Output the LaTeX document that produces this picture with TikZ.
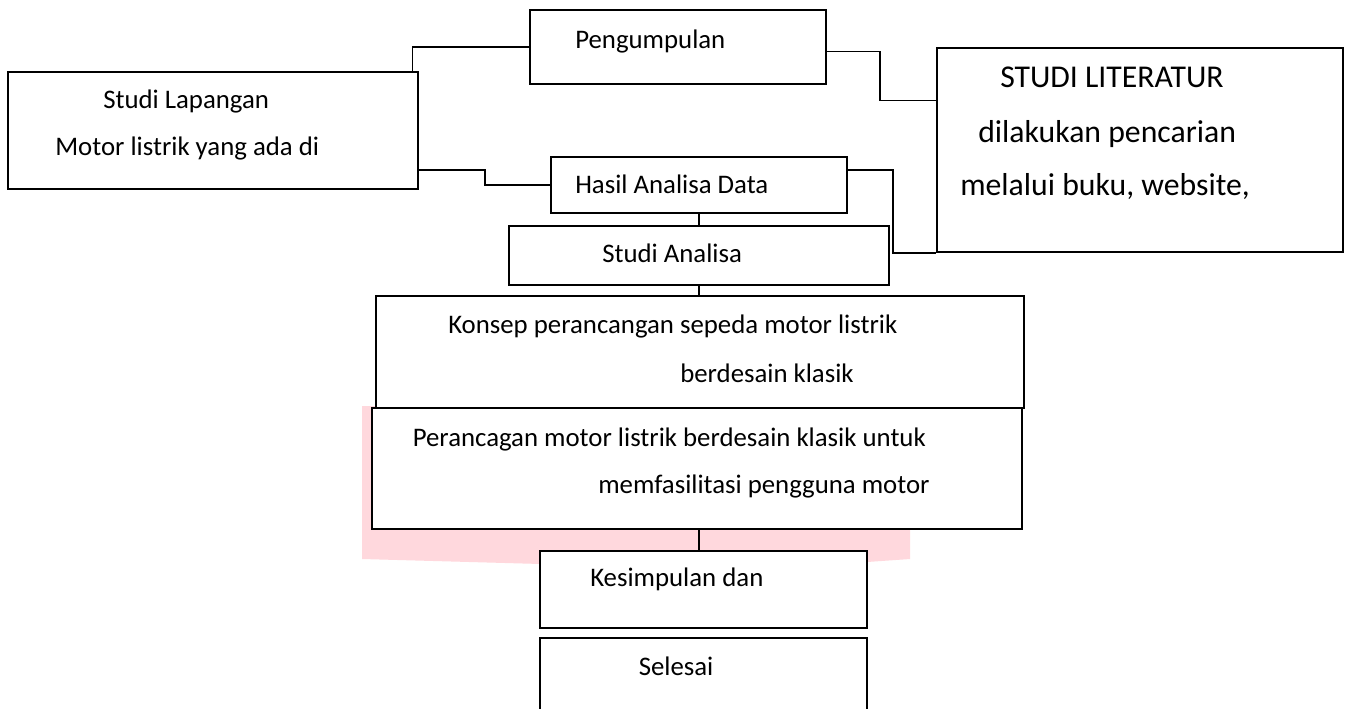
\documentclass[tikz,border=0pt]{standalone}
\usepackage{fontspec}
\setmainfont{Carlito}
\usetikzlibrary{fit,calc}
\definecolor{pinkbg}{RGB}{255,216,221}
\tikzset{
  box/.style={draw=black, line width=1.5pt, fill=white, inner sep=0pt, rectangle},
  conn/.style={draw=black, line width=0.8pt},
  txt/.style={inner sep=0pt, anchor=base west, font=\fontsize{20.1}{24}\selectfont},
  bigtxt/.style={inner sep=0pt, anchor=base west, font=\fontsize{23.8}{28}\selectfont},
}
\begin{document}
\begin{tikzpicture}[x=0.75pt, y=-0.75pt]
\useasboundingbox (0,0) rectangle (1349,708);
\clip (0,0) rectangle (1349,708);
\fill[white] (0,0) rectangle (1349,708);
% pink background shape
\fill[pinkbg] (362,406) -- (910,406) -- (910,559) -- (867,562) -- (700,566) -- (541,564) -- (362,559) -- cycle;
% boxes
\node[box, fit={(8,72) (418,189)}] (lap) {};
\node[box, fit={(530,10) (826,84)}] (peng) {};
\node[box, fit={(937,48) (1343,252)}] (lit) {};
\node[box, fit={(551,157) (847,213)}] (hasil) {};
\node[box, fit={(509,226) (889,285)}] (analisa) {};
\node[box, fit={(376,296) (1024,408)}] (konsep) {};
\node[box, fit={(372,408) (1022,529)}] (peranc) {};
\node[box, fit={(540,551) (867,628)}] (kes) {};
\node[box, fit={(540,638) (867,730)}] (sel) {};
% connectors
\coordinate (j1) at (412.5,47);
\draw[conn] (peng.west) -| (j1 |- lap.north);
\coordinate (j2a) at (826,51.7);
\coordinate (j2b) at (880,51.7);
\coordinate (j2c) at (880,100.7);
\coordinate (j2d) at (937,100.7);
\draw[conn] (j2a) -- (j2b) -- (j2c) -- (j2d);
\coordinate (j3a) at (418,170);
\coordinate (j3b) at (485,170);
\coordinate (j3c) at (485,185);
\draw[conn] (j3a) -- (j3b) -- (j3c) -- (hasil.west);
\coordinate (j4a) at (847,170);
\coordinate (j4b) at (893,170);
\draw[conn] (j4a) -- (j4b) |- (lit.south west);
\coordinate (vx) at (699,0);
\draw[conn] (vx |- hasil.south) -- (vx |- analisa.north);
\draw[conn] (vx |- analisa.south) -- (vx |- konsep.north);
\draw[conn] (vx |- peranc.south) -- (vx |- kes.north);
% texts
\node[txt] (tpeng) at (575,48) {Pengumpulan};
\node[txt] (tlap1) at (103,108) {Studi Lapangan};
\node[txt] (tlap2) at (55,155) {Motor listrik yang ada di};
\node[bigtxt] (tlit1) at (1000,87) {STUDI LITERATUR};
\node[bigtxt] (tlit2) at (978,142) {dilakukan pencarian};
\node[bigtxt] (tlit3) at (960,195) {melalui buku, website,};
\node[txt] (thasil) at (575,193) {Hasil Analisa Data};
\node[txt] (tanal) at (602,262) {Studi Analisa};
\node[txt] (tkon1) at (448,333) {Konsep perancangan sepeda motor listrik};
\node[txt] (tkon2) at (680,382) {berdesain klasik};
\node[txt] (tper1) at (412.5,446) {Perancagan motor listrik berdesain klasik untuk};
\node[txt] (tper2) at (598,493) {memfasilitasi pengguna motor};
\node[txt] (tkes) at (590,586) {Kesimpulan dan};
\node[txt] (tsel) at (638.5,675) {Selesai};
\end{tikzpicture}
\end{document}
